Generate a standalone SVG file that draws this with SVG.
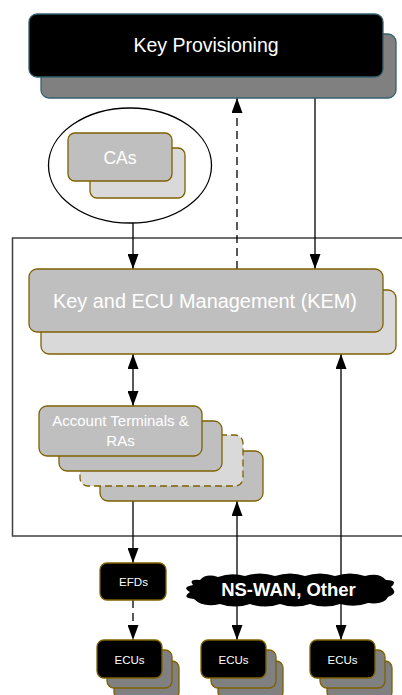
<svg xmlns="http://www.w3.org/2000/svg" width="402" height="695" viewBox="0 0 402 695">
<defs>
<marker id="ah" viewBox="0 0 15 11" refX="15" refY="5.5" markerWidth="15" markerHeight="11" markerUnits="userSpaceOnUse" orient="auto-start-reverse">
<path d="M0,0 L15,5.5 L0,11 z" fill="#000"/>
</marker>
<style>
.conn{stroke:#000;stroke-width:1.3;fill:none}
.dash{stroke-dasharray:8 5}
.g1{fill:#BFBFBF;stroke:#7F6000;stroke-width:1.3}
.g2{fill:#D9D9D9;stroke:#7F6000;stroke-width:1.3}
.blk{fill:#000;stroke:#7F6000;stroke-width:1.3}
.gry{fill:#808080;stroke:#7F6000;stroke-width:1.3}
.t{font-family:"Liberation Sans",Arial,sans-serif;fill:#fff;text-anchor:middle}
</style>
</defs>
<rect x="0" y="0" width="402" height="695" fill="#fff"/>
<rect id="boundary" x="12.5" y="238" width="400" height="298" fill="none" stroke="#404040" stroke-width="1.5"/>

<g id="connectors">
<line class="conn" x1="133" y1="198" x2="133" y2="269" marker-start="url(#ah)" marker-end="url(#ah)"/>
<line class="conn dash" x1="237" y1="269" x2="237" y2="98" marker-end="url(#ah)"/>
<line class="conn" x1="315" y1="98" x2="315" y2="269" marker-end="url(#ah)"/>
<line class="conn" x1="133" y1="354" x2="133" y2="406" marker-start="url(#ah)" marker-end="url(#ah)"/>
<line class="conn" x1="133" y1="501" x2="133" y2="563" marker-end="url(#ah)"/>
<line class="conn" x1="237" y1="501" x2="237" y2="640" marker-start="url(#ah)" marker-end="url(#ah)"/>
<line class="conn" x1="341" y1="354" x2="341" y2="640" marker-start="url(#ah)" marker-end="url(#ah)"/>
<line class="conn dash" x1="133" y1="600" x2="133" y2="640" marker-end="url(#ah)"/>
</g>

<g id="key-provisioning">
<rect x="41" y="34" width="355" height="64" rx="8" fill="#808080" stroke="#35606F" stroke-width="1.3"/>
<rect x="29" y="14" width="354" height="63" rx="8" fill="#000" stroke="#35606F" stroke-width="1.3"/>
<text class="t" x="206" y="52" font-size="19.5">Key Provisioning</text>
</g>

<g id="cas">
<ellipse cx="130" cy="165.5" rx="81.5" ry="57.5" fill="#fff" stroke="#000" stroke-width="1.3"/>
<rect class="g2" x="90" y="148" width="95" height="50" rx="7"/>
<rect class="g1" x="68" y="133" width="104" height="48" rx="7"/>
<text class="t" x="120" y="164" font-size="17.5">CAs</text>
</g>

<g id="kem">
<rect class="g2" x="41" y="290" width="355" height="64" rx="8"/>
<rect class="g1" x="29" y="269" width="354" height="63" rx="8"/>
<text class="t" x="205" y="308" font-size="19.9">Key and ECU Management (KEM)</text>
</g>

<g id="account-terminals">
<rect class="g1" x="100" y="451" width="163" height="50" rx="8"/>
<rect class="g2" x="80" y="435" width="163" height="51" rx="8" stroke-dasharray="7 4"/>
<rect class="g1" x="59" y="421" width="163" height="50" rx="8"/>
<rect class="g1" x="39" y="406" width="163" height="50" rx="8"/>
<text class="t" x="120.5" y="426" font-size="15">Account Terminals &amp;</text>
<text class="t" x="120.5" y="446" font-size="15">RAs</text>
</g>

<g id="efds">
<rect class="blk" x="100" y="563" width="66" height="37" rx="7"/>
<text class="t" x="133.5" y="586" font-size="11.6">EFDs</text>
</g>

<g id="ns-wan">
<path d="M200 580 Q206 573 218 577 Q231 572 245 576 Q260 571 275 576 Q290 571 305 576 Q320 571 335 576 Q350 571 365 576 Q379 572 386 580 Q399 580 391 587 Q399 593 388 597 Q384 605 368 603 Q355 608 340 604 Q325 609 310 604 Q295 609 280 604 Q265 609 250 604 Q235 609 220 604 Q203 608 194 599 Q181 598 190 592 Q181 587 193 585 Q188 579 200 580 Z" fill="#000"/>
<text class="t" x="288.5" y="596" font-size="18.5" font-weight="bold">NS-WAN, Other</text>
</g>

<g id="ecus-left">
<rect class="gry" x="114" y="661" width="65" height="38" rx="7"/>
<rect class="gry" x="107" y="650" width="65" height="38" rx="7"/>
<rect class="blk" x="97" y="640" width="65" height="38" rx="7"/>
<text class="t" x="129.5" y="664" font-size="11.5">ECUs</text>
</g>

<g id="ecus-middle">
<rect class="gry" x="218" y="661" width="65" height="38" rx="7"/>
<rect class="gry" x="211" y="650" width="65" height="38" rx="7"/>
<rect class="blk" x="201" y="640" width="65" height="38" rx="7"/>
<text class="t" x="233.5" y="664" font-size="11.5">ECUs</text>
</g>

<g id="ecus-right">
<rect class="gry" x="327" y="661" width="65" height="38" rx="7"/>
<rect class="gry" x="320" y="650" width="65" height="38" rx="7"/>
<rect class="blk" x="310" y="640" width="65" height="38" rx="7"/>
<text class="t" x="342.5" y="664" font-size="11.5">ECUs</text>
</g>
</svg>
